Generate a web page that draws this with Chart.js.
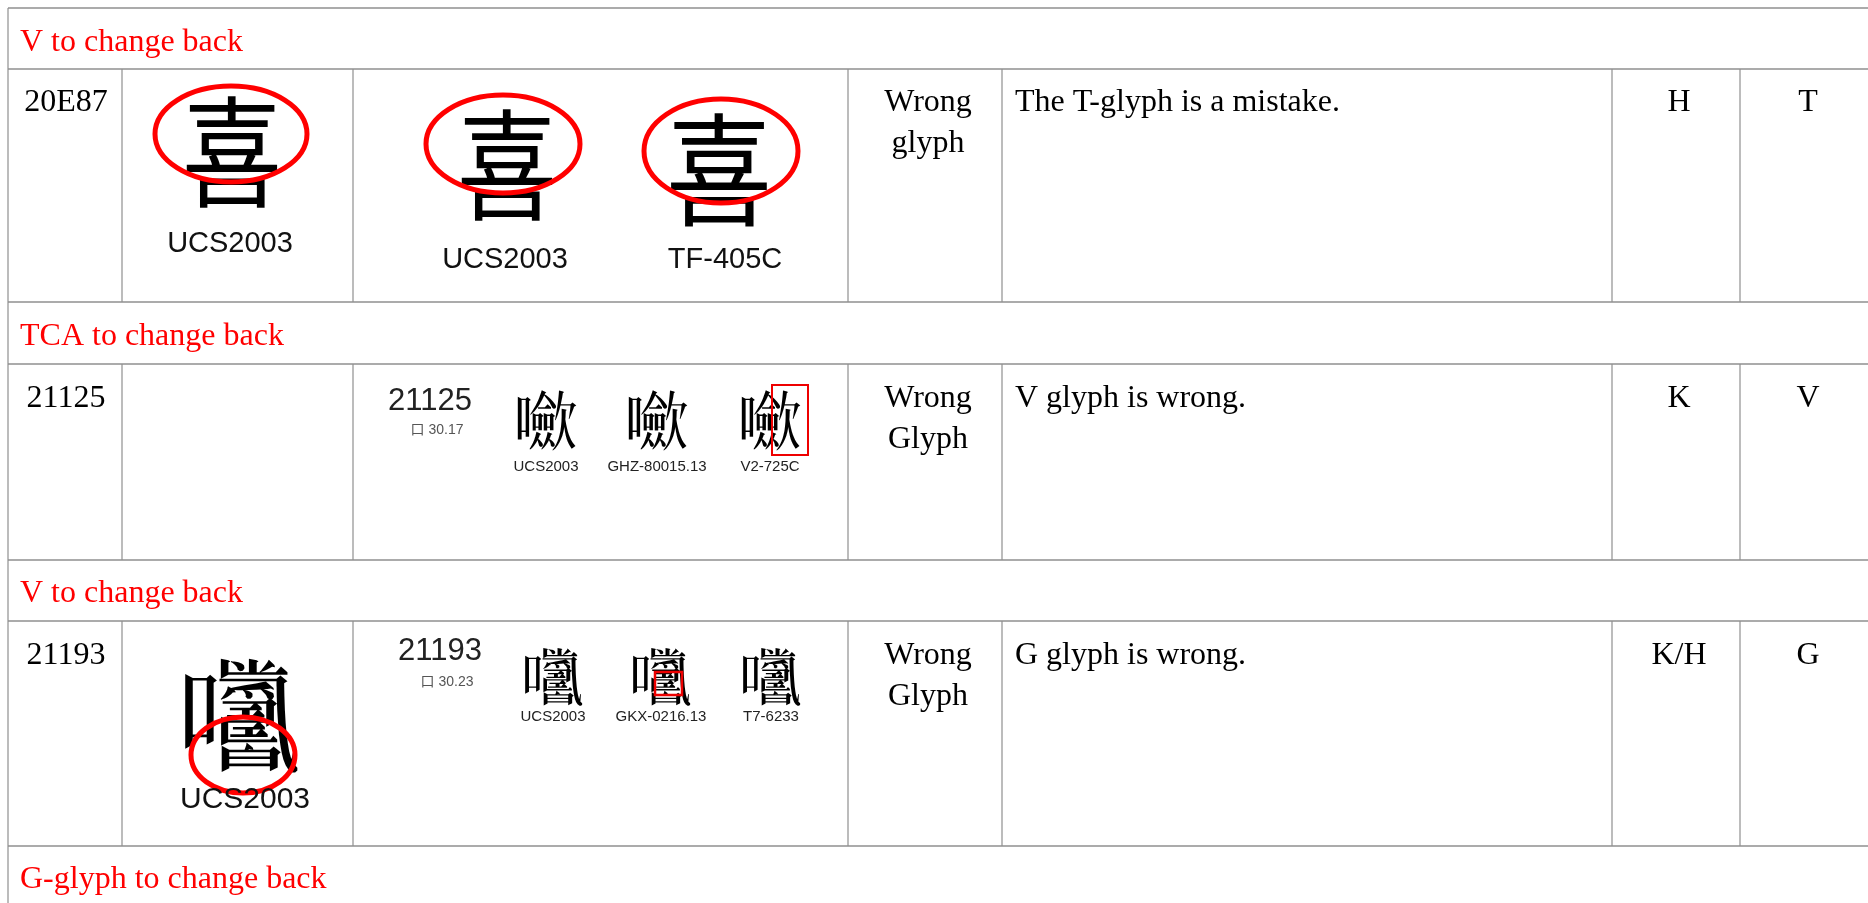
<!DOCTYPE html>
<html>
<head>
<meta charset="utf-8">
<script src="https://cdn.jsdelivr.net/npm/chart.js"></script>
<style>
  html, body { margin: 0; padding: 0; background: #fff; }
  canvas { display: block; }
</style>
</head>
<body>
<canvas id="myChart" width="1868" height="903"></canvas>
<script>
// table content
const headers = ["V to change back", "TCA to change back", "V to change back", "G-glyph to change back"];
const codes = ["20E87", "21125", "21193"];
// glyph shown for each code (20E87 is not in the installed fonts, 喜 stands in)
const glyphs = ["喜", String.fromCodePoint(0x21125), String.fromCodePoint(0x21193)];
const radicals = ["", "口 30.17", "口 30.23"];
const sources = [
  ["UCS2003", "TF-405C"],
  ["UCS2003", "GHZ-80015.13", "V2-725C"],
  ["UCS2003", "GKX-0216.13", "T7-6233"],
];
const kinds = [["Wrong", "glyph"], ["Wrong", "Glyph"], ["Wrong", "Glyph"]];
const comments = ["The T-glyph is a mistake.", "V glyph is wrong.", "G glyph is wrong."];
const sourceCol = ["H", "K", "K/H"];
const glyphCol = ["T", "V", "G"];

// layout (in canvas units, mapped through the scales)
const W = 1868, H = 903;
const hLines = [8, 69, 302, 364, 560, 621, 846];
const vLines = [122, 353, 848, 1002, 1612, 1740];
const headerMid = [43, 337, 594, 880];
const dataRows = [[69, 302], [364, 560], [621, 846]];
const textMid = [103, 399, 656];

const CJK = '"Noto Sans CJK TC", "Noto Sans CJK KR", "Noto Sans CJK SC", "Noto Sans CJK JP"';
const SERIF = '"Liberation Serif", "Times New Roman", serif';
const SANS = '"Liberation Sans", Arial, sans-serif';
const BODY = "32px " + SERIF;

const tablePlugin = {
  id: "table",
  afterDraw(chart) {
    const { ctx, scales: { x, y } } = chart;
    const px = (v) => x.getPixelForValue(v);
    const py = (v) => y.getPixelForValue(v);

    function text(str, xv, yv, font, color, align) {
      ctx.font = font;
      ctx.fillStyle = color || "#000";
      ctx.textAlign = align || "center";
      ctx.textBaseline = "middle";
      ctx.fillText(str, px(xv), py(yv));
    }
    function glyph(ch, xv, yv, size, sy) {
      ctx.save();
      ctx.translate(px(xv), py(yv));
      ctx.scale(1, sy || 1);
      ctx.font = size + "px " + CJK;
      ctx.fillStyle = "#000";
      ctx.textAlign = "center";
      ctx.textBaseline = "middle";
      ctx.fillText(ch, 0, 0);
      ctx.restore();
    }
    function ellipse(xv, yv, rx, ry, lw) {
      ctx.beginPath();
      ctx.ellipse(px(xv), py(yv), rx, ry, 0, 0, Math.PI * 2);
      ctx.strokeStyle = "#f00";
      ctx.lineWidth = lw;
      ctx.stroke();
    }
    function box(x0, y0, x1, y1, lw) {
      ctx.strokeStyle = "#e00";
      ctx.lineWidth = lw;
      ctx.strokeRect(px(x0), py(y0), px(x1) - px(x0), py(y1) - py(y0));
    }

    // rules: horizontal ones run the full width
    ctx.save();
    ctx.strokeStyle = "#909090";
    ctx.lineWidth = 1.6;
    ctx.beginPath();
    hLines.forEach((v) => {
      ctx.moveTo(px(8), py(v));
      ctx.lineTo(px(W), py(v));
    });
    ctx.stroke();
    ctx.lineWidth = 1.2;
    ctx.beginPath();
    ctx.moveTo(px(8), py(8));
    ctx.lineTo(px(8), py(H));
    dataRows.forEach(([a, b]) => {
      vLines.forEach((v) => {
        ctx.moveTo(px(v), py(a));
        ctx.lineTo(px(v), py(b));
      });
    });
    ctx.stroke();
    ctx.restore();

    // header rows
    headers.forEach((h, i) => text(h, 20, headerMid[i], BODY, "#ff0000", "left"));

    // simple text columns
    codes.forEach((c, i) => {
      const m = textMid[i];
      text(c, 66, m, BODY);
      text(kinds[i][0], 928, m, BODY);
      text(kinds[i][1], 928, m + 41, BODY);
      text(comments[i], 1015, m, BODY, "#000", "left");
      text(sourceCol[i], 1679, m, BODY);
      text(glyphCol[i], 1808, m, BODY);
    });

    // row 1 glyph images
    glyph(glyphs[0], 232, 152, 100, 1.2);
    ellipse(231, 134, 76, 48, 5);
    text(sources[0][0], 230, 244, "29px " + SANS, "#111");
    glyph(glyphs[0], 507, 165, 100, 1.2);
    ellipse(503, 144, 77, 49, 5);
    text(sources[0][0], 505, 260, "29px " + SANS, "#111");
    glyph(glyphs[0], 719, 170, 106, 1.15);
    ellipse(721, 151, 77, 52, 5);
    text(sources[0][1], 725, 260, "29px " + SANS, "#111");

    // row 2 glyph images
    text(codes[1], 430, 401, "31px " + SANS, "#222");
    text(radicals[1], 437, 430, "14px " + SANS + ", " + CJK, "#555");
    [546, 657, 770].forEach((xv, k) => {
      glyph(glyphs[1], xv, 421, 66, 1);
      text(sources[1][k], xv, 467, "15px " + SANS, "#222");
    });
    box(772, 385, 808, 455, 2);

    // row 3 glyph images
    glyph(glyphs[2], 240, 717, 122, 1);
    ellipse(243, 755, 52, 38, 5);
    text(sources[2][0], 245, 800, "30px " + SANS, "#111");
    text(codes[2], 440, 651, "31px " + SANS, "#222");
    text(radicals[2], 447, 682, "14px " + SANS + ", " + CJK, "#555");
    [553, 661, 771].forEach((xv, k) => {
      glyph(glyphs[2], xv, 677, 62, 1);
      text(sources[2][k], xv, 717, "15px " + SANS, "#222");
    });
    box(655, 672, 682, 695, 2.5);
  },
};

new Chart("myChart", {
  type: "scatter",
  data: { datasets: [] },
  options: {
    responsive: false,
    animation: false,
    devicePixelRatio: 1,
    layout: { padding: 0 },
    plugins: { legend: { display: false }, tooltip: { enabled: false } },
    scales: {
      x: { type: "linear", min: 0, max: W, display: false },
      y: { type: "linear", min: 0, max: H, reverse: true, display: false },
    },
  },
  plugins: [tablePlugin],
});
</script>
</body>
</html>
